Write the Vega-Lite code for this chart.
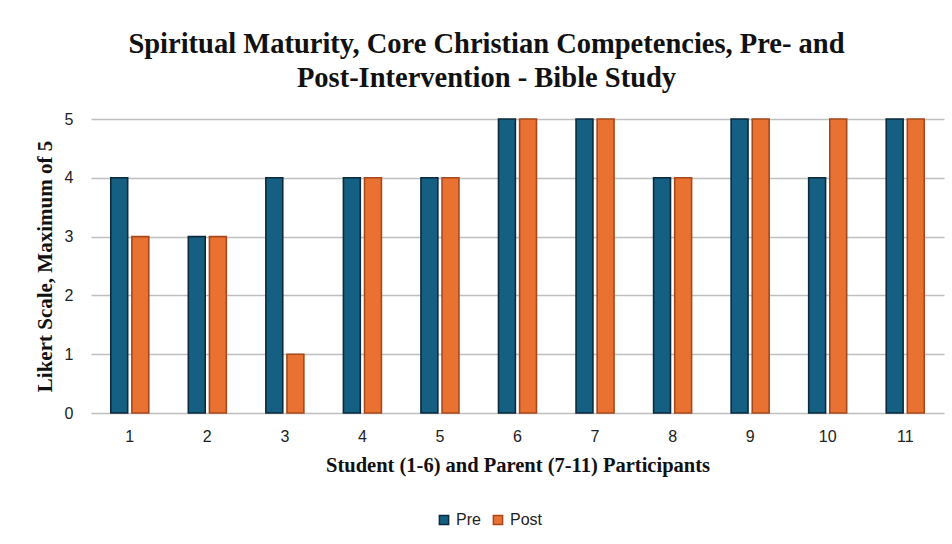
{
  "$schema": "https://vega.github.io/schema/vega-lite/v6.json",
  "width": 853,
  "height": 294,
  "autosize": {"type": "none"},
  "padding": {"left": 91, "top": 119, "right": 8, "bottom": 131},
  "background": "white",
  "title": {
    "text": ["Spiritual Maturity, Core Christian Competencies, Pre- and", "Post-Intervention  - Bible Study"],
    "font": "Liberation Serif",
    "fontSize": 28.5,
    "fontWeight": "bold",
    "color": "#111111",
    "anchor": "middle",
    "dx": -31,
    "offset": 19,
    "lineHeight": 34
  },
  "data": {
    "values": [
      {"participant": 1, "phase": "Pre", "score": 4},
      {"participant": 1, "phase": "Post", "score": 3},
      {"participant": 2, "phase": "Pre", "score": 3},
      {"participant": 2, "phase": "Post", "score": 3},
      {"participant": 3, "phase": "Pre", "score": 4},
      {"participant": 3, "phase": "Post", "score": 1},
      {"participant": 4, "phase": "Pre", "score": 4},
      {"participant": 4, "phase": "Post", "score": 4},
      {"participant": 5, "phase": "Pre", "score": 4},
      {"participant": 5, "phase": "Post", "score": 4},
      {"participant": 6, "phase": "Pre", "score": 5},
      {"participant": 6, "phase": "Post", "score": 5},
      {"participant": 7, "phase": "Pre", "score": 5},
      {"participant": 7, "phase": "Post", "score": 5},
      {"participant": 8, "phase": "Pre", "score": 4},
      {"participant": 8, "phase": "Post", "score": 4},
      {"participant": 9, "phase": "Pre", "score": 5},
      {"participant": 9, "phase": "Post", "score": 5},
      {"participant": 10, "phase": "Pre", "score": 4},
      {"participant": 10, "phase": "Post", "score": 5},
      {"participant": 11, "phase": "Pre", "score": 5},
      {"participant": 11, "phase": "Post", "score": 5}
    ]
  },
  "mark": {"type": "bar", "strokeWidth": 1.6},
  "encoding": {
    "x": {
      "field": "participant",
      "type": "ordinal",
      "scale": {"paddingInner": 0.51, "paddingOuter": 0.255},
      "axis": {
        "title": "Student (1-6) and Parent (7-11) Participants",
        "titleFont": "Liberation Serif",
        "titleFontSize": 20.5,
        "titleFontWeight": "bold",
        "titleColor": "#111111",
        "titlePadding": 11,
        "labelFont": "Liberation Sans",
        "labelFontSize": 16,
        "labelColor": "#222222",
        "labelAngle": 0,
        "labelPadding": 15,
        "domain": false,
        "ticks": false
      }
    },
    "xOffset": {
      "field": "phase",
      "type": "nominal",
      "sort": ["Pre", "Post"],
      "scale": {"paddingInner": 0.2}
    },
    "y": {
      "field": "score",
      "type": "quantitative",
      "scale": {"domain": [0, 5], "nice": false},
      "axis": {
        "title": "Likert Scale, Maximum of 5",
        "titleFont": "Liberation Serif",
        "titleFontSize": 21,
        "titleFontWeight": "bold",
        "titleColor": "#111111",
        "titlePadding": 9,
        "labelFont": "Liberation Sans",
        "labelFontSize": 16,
        "labelColor": "#222222",
        "labelPadding": 18,
        "values": [0, 1, 2, 3, 4, 5],
        "labelOverlap": false,
        "domain": false,
        "ticks": false,
        "grid": true,
        "gridColor": "#bfbfbf",
        "gridWidth": 1.5
      }
    },
    "color": {
      "field": "phase",
      "type": "nominal",
      "sort": ["Pre", "Post"],
      "scale": {"domain": ["Pre", "Post"], "range": ["#156082", "#E97132"]},
      "legend": {
        "title": null,
        "orient": "none",
        "direction": "horizontal",
        "legendX": 345,
        "legendY": 393,
        "symbolType": "square",
        "symbolSize": 85,
        "symbolStrokeWidth": 1.5,
        "labelFont": "Liberation Sans",
        "labelFontSize": 16,
        "labelColor": "#222222",
        "columnPadding": 9,
        "labelOffset": 4
      }
    },
    "stroke": {
      "field": "phase",
      "type": "nominal",
      "sort": ["Pre", "Post"],
      "scale": {"domain": ["Pre", "Post"], "range": ["#0b2a3c", "#a8481a"]},
      "legend": null
    }
  },
  "config": {
    "view": {"stroke": null}
  }
}
